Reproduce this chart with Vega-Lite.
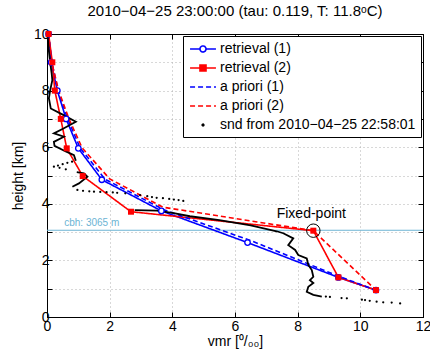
{
  "$schema": "https://vega.github.io/schema/vega-lite/v6.json",
  "autosize": "none",
  "width": 376,
  "height": 283,
  "padding": {"left": 47, "top": 34, "right": 7, "bottom": 37},
  "title": {"text": "2010−04−25 23:00:00 (tau: 0.119, T: 11.8ᵒC)", "font": "Liberation Sans", "fontSize": 15, "fontWeight": "normal", "color": "black", "offset": 8, "anchor": "middle"},
  "config": {
    "view": {"stroke": "black", "strokeWidth": 1},
    "font": "Liberation Sans",
    "axis": {"labelFont": "Liberation Sans", "labelFontSize": 14, "labelColor": "black", "titleFont": "Liberation Sans", "titleFontSize": 14, "titleFontWeight": "normal", "titleColor": "black", "domainColor": "black", "tickColor": "black", "tickSize": -5, "gridColor": "#b0b0b0", "gridDash": [1, 3], "labelOverlap": false, "labelFlush": false}
  },
  "datasets": {
    "profiles": [
      {"series": "retrieval (1)", "vmr": 0.05, "h": 10},
      {"series": "retrieval (1)", "vmr": 0.13, "h": 9},
      {"series": "retrieval (1)", "vmr": 0.33, "h": 8},
      {"series": "retrieval (1)", "vmr": 0.61, "h": 7},
      {"series": "retrieval (1)", "vmr": 1.0, "h": 5.96},
      {"series": "retrieval (1)", "vmr": 1.75, "h": 4.85},
      {"series": "retrieval (1)", "vmr": 3.65, "h": 3.75},
      {"series": "retrieval (1)", "vmr": 6.4, "h": 2.63},
      {"series": "retrieval (1)", "vmr": 9.3, "h": 1.4},
      {"series": "retrieval (1)", "vmr": 10.5, "h": 0.95},
      {"series": "retrieval (2)", "vmr": 0.05, "h": 10},
      {"series": "retrieval (2)", "vmr": 0.17, "h": 9},
      {"series": "retrieval (2)", "vmr": 0.25, "h": 8},
      {"series": "retrieval (2)", "vmr": 0.44, "h": 7},
      {"series": "retrieval (2)", "vmr": 0.63, "h": 5.96},
      {"series": "retrieval (2)", "vmr": 1.14, "h": 4.98},
      {"series": "retrieval (2)", "vmr": 2.68, "h": 3.72},
      {"series": "retrieval (2)", "vmr": 8.5, "h": 3.05},
      {"series": "retrieval (2)", "vmr": 9.3, "h": 1.4},
      {"series": "retrieval (2)", "vmr": 10.5, "h": 0.95},
      {"series": "a priori (1)", "vmr": 0.05, "h": 10},
      {"series": "a priori (1)", "vmr": 0.15, "h": 9},
      {"series": "a priori (1)", "vmr": 0.36, "h": 8},
      {"series": "a priori (1)", "vmr": 0.66, "h": 7},
      {"series": "a priori (1)", "vmr": 1.06, "h": 5.97},
      {"series": "a priori (1)", "vmr": 1.85, "h": 4.87},
      {"series": "a priori (1)", "vmr": 3.75, "h": 3.78},
      {"series": "a priori (1)", "vmr": 6.55, "h": 2.68},
      {"series": "a priori (1)", "vmr": 9.35, "h": 1.42},
      {"series": "a priori (1)", "vmr": 10.5, "h": 0.95},
      {"series": "a priori (2)", "vmr": 0.05, "h": 10},
      {"series": "a priori (2)", "vmr": 0.15, "h": 9},
      {"series": "a priori (2)", "vmr": 0.37, "h": 8},
      {"series": "a priori (2)", "vmr": 0.7, "h": 7},
      {"series": "a priori (2)", "vmr": 1.12, "h": 5.98},
      {"series": "a priori (2)", "vmr": 2.0, "h": 4.88},
      {"series": "a priori (2)", "vmr": 3.7, "h": 3.88},
      {"series": "a priori (2)", "vmr": 8.5, "h": 3.05},
      {"series": "a priori (2)", "vmr": 10.5, "h": 0.95}
    ],
    "snd": [
      {"part": 1, "vmr": 0.02, "h": 10}, {"part": 1, "vmr": 0.05, "h": 9.5}, {"part": 1, "vmr": 0.1, "h": 9.0}, {"part": 1, "vmr": 0.15, "h": 8.6}, {"part": 1, "vmr": 0.17, "h": 8.37}, {"part": 1, "vmr": 0.1, "h": 8.0}, {"part": 1, "vmr": 0.06, "h": 7.73}, {"part": 1, "vmr": 0.12, "h": 7.37}, {"part": 1, "vmr": 0.5, "h": 7.15}, {"part": 1, "vmr": 0.92, "h": 6.9}, {"part": 1, "vmr": 0.54, "h": 6.67}, {"part": 1, "vmr": 0.22, "h": 6.49}, {"part": 1, "vmr": 0.54, "h": 6.37}, {"part": 1, "vmr": 0.22, "h": 6.19}, {"part": 1, "vmr": 0.24, "h": 6.05}, {"part": 1, "vmr": 0.6, "h": 5.85}, {"part": 1, "vmr": 0.86, "h": 5.72}, {"part": 1, "vmr": 0.92, "h": 5.52},
      {"part": 2, "vmr": 0.8, "h": 5.49}, {"part": 2, "vmr": 0.65, "h": 5.45}, {"part": 2, "vmr": 0.5, "h": 5.4}, {"part": 2, "vmr": 0.35, "h": 5.35}, {"part": 2, "vmr": 0.22, "h": 5.31}, {"part": 2, "vmr": 0.4, "h": 5.27}, {"part": 2, "vmr": 0.6, "h": 5.22},
      {"part": 3, "vmr": 0.95, "h": 5.12}, {"part": 3, "vmr": 1.18, "h": 5.08}, {"part": 3, "vmr": 1.29, "h": 4.96}, {"part": 3, "vmr": 1.02, "h": 4.72}, {"part": 3, "vmr": 0.81, "h": 4.6},
      {"part": 4, "vmr": 0.97, "h": 4.49}, {"part": 4, "vmr": 1.15, "h": 4.46}, {"part": 4, "vmr": 1.35, "h": 4.44}, {"part": 4, "vmr": 1.5, "h": 4.43}, {"part": 4, "vmr": 1.7, "h": 4.42}, {"part": 4, "vmr": 1.9, "h": 4.41}, {"part": 4, "vmr": 2.1, "h": 4.4}, {"part": 4, "vmr": 2.24, "h": 4.39}, {"part": 4, "vmr": 2.5, "h": 4.37}, {"part": 4, "vmr": 2.97, "h": 4.31}, {"part": 4, "vmr": 3.2, "h": 4.27}, {"part": 4, "vmr": 3.35, "h": 4.24}, {"part": 4, "vmr": 3.5, "h": 4.21}, {"part": 4, "vmr": 3.7, "h": 4.2}, {"part": 4, "vmr": 3.9, "h": 4.17}, {"part": 4, "vmr": 4.05, "h": 4.15}, {"part": 4, "vmr": 4.2, "h": 4.13}, {"part": 4, "vmr": 4.35, "h": 4.1},
      {"part": 5, "vmr": 2.8, "h": 3.78}, {"part": 5, "vmr": 3.5, "h": 3.76}, {"part": 5, "vmr": 4.0, "h": 3.68}, {"part": 5, "vmr": 4.56, "h": 3.56}, {"part": 5, "vmr": 5.5, "h": 3.42}, {"part": 5, "vmr": 6.5, "h": 3.24}, {"part": 5, "vmr": 7.33, "h": 3.03}, {"part": 5, "vmr": 7.54, "h": 2.96}, {"part": 5, "vmr": 7.86, "h": 2.78}, {"part": 5, "vmr": 7.7, "h": 2.54}, {"part": 5, "vmr": 7.92, "h": 2.37}, {"part": 5, "vmr": 8.02, "h": 2.19}, {"part": 5, "vmr": 8.29, "h": 2.07}, {"part": 5, "vmr": 8.34, "h": 1.84}, {"part": 5, "vmr": 8.45, "h": 1.66}, {"part": 5, "vmr": 8.5, "h": 1.42}, {"part": 5, "vmr": 8.39, "h": 1.3}, {"part": 5, "vmr": 8.5, "h": 1.2}, {"part": 5, "vmr": 8.34, "h": 1.07}, {"part": 5, "vmr": 8.29, "h": 0.89}, {"part": 5, "vmr": 8.5, "h": 0.78}, {"part": 5, "vmr": 8.77, "h": 0.72},
      {"part": 6, "vmr": 8.9, "h": 0.72}, {"part": 6, "vmr": 9.03, "h": 0.71}, {"part": 6, "vmr": 9.4, "h": 0.67}, {"part": 6, "vmr": 9.57, "h": 0.66}, {"part": 6, "vmr": 10.05, "h": 0.61}, {"part": 6, "vmr": 10.15, "h": 0.6}, {"part": 6, "vmr": 10.3, "h": 0.57}, {"part": 6, "vmr": 10.52, "h": 0.54}, {"part": 6, "vmr": 10.73, "h": 0.52}, {"part": 6, "vmr": 11.0, "h": 0.51}, {"part": 6, "vmr": 11.27, "h": 0.48}
    ],
    "cbh": [{"vmr": 0.55, "h": 3.065, "label": "cbh: 3065 m"}],
    "fp": [{"vmr": 8.5, "h": 3.05, "label": "Fixed-point"}]
  },
  "resolve": {"axis": {"x": "independent", "y": "independent"}},
  "layer": [
    {
      "data": {"name": "cbh"},
      "mark": {"type": "rule", "color": "#6cb4d4", "strokeWidth": 1},
      "encoding": {
        "y": {"field": "h", "type": "quantitative", "scale": {"domain": [0, 10], "nice": false}, "axis": null}
      }
    },
    {
      "data": {"name": "cbh"},
      "mark": {"type": "text", "color": "#6cb4d4", "fontSize": 10, "align": "left", "baseline": "alphabetic", "dy": -4, "font": "Liberation Sans"},
      "encoding": {
        "x": {"field": "vmr", "type": "quantitative", "scale": {"domain": [0, 12], "nice": false}, "axis": null},
        "y": {"field": "h", "type": "quantitative", "axis": null},
        "text": {"field": "label"}
      }
    },
    {
      "data": {"name": "profiles"},
      "mark": {"type": "line", "strokeWidth": 1.6},
      "encoding": {
        "x": {"field": "vmr", "type": "quantitative", "scale": {"domain": [0, 12], "nice": false},
          "axis": {"orient": "bottom", "values": [0, 2, 4, 6, 8, 10, 12], "grid": true, "title": "vmr [⁰/₀₀]", "labelPadding": 7, "titlePadding": 1}},
        "y": {"field": "h", "type": "quantitative", "scale": {"domain": [0, 10], "nice": false},
          "axis": {"orient": "left", "values": [0, 1, 2, 3, 4, 5, 6, 7, 8, 9, 10], "grid": true, "labelExpr": "datum.value % 2 === 0 ? datum.label : ''", "title": "height [km]", "labelPadding": 3, "titlePadding": 8}},
        "color": {"field": "series", "type": "nominal",
          "scale": {"domain": ["retrieval (1)", "retrieval (2)", "a priori (1)", "a priori (2)", "snd from 2010−04−25 22:58:01"], "range": ["#0000ff", "#ff0000", "#0000ff", "#ff0000", "#000000"]},
          "legend": {
            "title": null, "orient": "top-right", "offset": 2, "padding": 5,
            "strokeColor": "black", "fillColor": "white",
            "labelFont": "Liberation Sans", "labelFontSize": 14, "labelColor": "black", "labelLimit": 400,
            "symbolSize": 196, "labelOffset": 16, "rowPadding": 4, "symbolStrokeWidth": 1.6, "symbolOpacity": 1,
            "encode": {"symbols": {"update": {
              "shape": {"signal": "datum.value === 'retrieval (1)' ? 'M-0.85,0H0.57M1.43,0H2.85M0.57,0A0.43,0.43,0,1,1,1.43,0A0.43,0.43,0,1,1,0.57,0Z' : datum.value === 'retrieval (2)' ? 'M-0.85,0H2.85M0.57,-0.43H1.43V0.43H0.57Z' : indexof(datum.value, 'snd') === 0 ? 'M0.88,0A0.12,0.12,0,1,1,1.12,0A0.12,0.12,0,1,1,0.88,0Z' : 'M-0.85,0H2.85'"},
              "fill": {"signal": "datum.value === 'retrieval (1)' ? 'white' : datum.value === 'retrieval (2)' ? '#ff0000' : indexof(datum.value, 'snd') === 0 ? 'black' : 'transparent'"},
              "strokeDash": {"signal": "indexof(datum.value, 'a priori') === 0 ? [5, 3] : [1, 0]"}
            }}}
          }},
        "strokeDash": {"condition": {"test": "indexof(datum.series, 'a priori') === 0", "value": [5, 3]}, "value": [1, 0]},
        "order": {"field": "h", "sort": "descending"}
      }
    },
    {
      "data": {"name": "snd"},
      "transform": [{"filter": "datum.part % 2 === 1"}],
      "mark": {"type": "line", "color": "black", "strokeWidth": 1.8},
      "encoding": {
        "x": {"field": "vmr", "type": "quantitative", "axis": null},
        "y": {"field": "h", "type": "quantitative", "axis": null},
        "detail": {"field": "part", "type": "nominal"},
        "order": {"field": "h", "sort": "descending"}
      }
    },
    {
      "data": {"name": "snd"},
      "transform": [{"filter": "datum.part % 2 === 0"}],
      "mark": {"type": "point", "shape": "circle", "filled": true, "color": "black", "size": 5, "opacity": 1},
      "encoding": {
        "x": {"field": "vmr", "type": "quantitative", "axis": null},
        "y": {"field": "h", "type": "quantitative", "axis": null}
      }
    },
    {
      "data": {"name": "profiles"},
      "transform": [{"filter": "datum.series === 'retrieval (1)'"}],
      "mark": {"type": "point", "shape": "circle", "filled": true, "fill": "white", "stroke": "#0000ff", "strokeWidth": 1.3, "size": 30, "opacity": 1},
      "encoding": {
        "x": {"field": "vmr", "type": "quantitative", "axis": {"orient": "top", "values": [0, 2, 4, 6, 8, 10, 12], "labels": false, "title": null, "grid": false}},
        "y": {"field": "h", "type": "quantitative", "axis": {"orient": "right", "values": [0, 1, 2, 3, 4, 5, 6, 7, 8, 9, 10], "labels": false, "title": null, "grid": false}}
      }
    },
    {
      "data": {"name": "profiles"},
      "transform": [{"filter": "datum.series === 'retrieval (2)'"}],
      "mark": {"type": "point", "shape": "square", "filled": true, "color": "#ff0000", "size": 36, "opacity": 1},
      "encoding": {
        "x": {"field": "vmr", "type": "quantitative", "axis": null},
        "y": {"field": "h", "type": "quantitative", "axis": null}
      }
    },
    {
      "data": {"name": "fp"},
      "mark": {"type": "point", "shape": "circle", "filled": false, "stroke": "black", "strokeWidth": 1, "size": 180, "opacity": 1},
      "encoding": {
        "x": {"field": "vmr", "type": "quantitative", "axis": null},
        "y": {"field": "h", "type": "quantitative", "axis": null}
      }
    },
    {
      "data": {"name": "fp"},
      "mark": {"type": "text", "color": "black", "fontSize": 14, "align": "center", "baseline": "alphabetic", "dy": -13, "dx": -2, "font": "Liberation Sans"},
      "encoding": {
        "x": {"field": "vmr", "type": "quantitative", "axis": null},
        "y": {"field": "h", "type": "quantitative", "axis": null},
        "text": {"field": "label"}
      }
    }
  ]
}
